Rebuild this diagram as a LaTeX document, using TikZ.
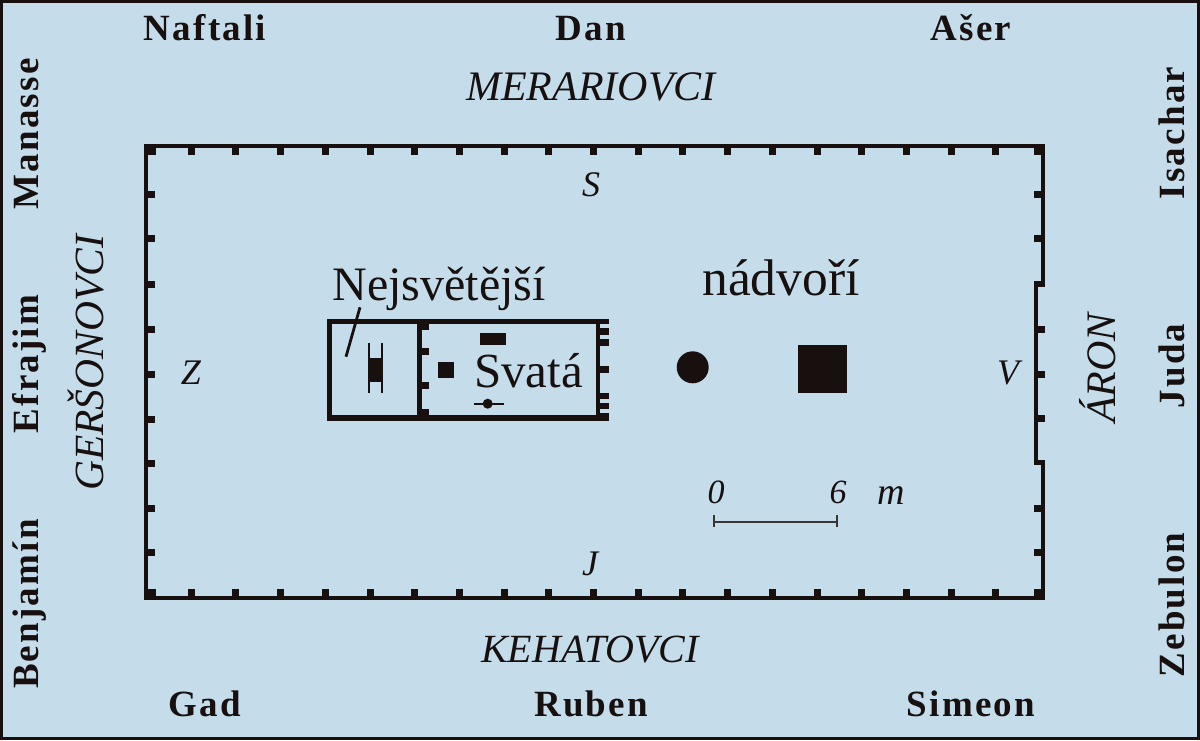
\documentclass[tikz,border=0pt]{standalone}
\usepackage{fontspec}
\setmainfont{Liberation Serif}
\definecolor{bgblue}{HTML}{C5DCEA}
\definecolor{ink}{HTML}{17100F}
\newcommand{\fsz}[1]{\fontsize{#1}{#1}\selectfont}
\newfontfamily\tribefont[LetterSpace=6]{Liberation Serif Bold}
\tikzset{
  x=1pt,y=-1pt,
  tribe/.style={inner sep=0pt,anchor=base,font=\tribefont\fsz{37}\selectfont,text=ink},
  levite/.style={inner sep=0pt,anchor=base,font=\itshape\fsz{#1},text=ink},
  compass/.style={inner sep=0pt,anchor=base,font=\itshape\fsz{36},text=ink},
  room/.style={inner sep=0pt,anchor=base,font=\fsz{48},text=ink},
  solid block/.style={fill=ink,draw=none},
  scale line/.style={draw=ink!85,line width=2pt},
}
\begin{document}
\begin{tikzpicture}
\useasboundingbox (0,0) rectangle (1200,740);
\fill[ink] (0,0) rectangle (1200,740);
\fill[bgblue] (3,3) rectangle (1197,737);
% court wall
\fill[solid block] (144,144) rectangle (1045,148);
\fill[solid block] (144,596) rectangle (1045,600);
\fill[solid block] (144,144) rectangle (148,600);
\fill[solid block] (1041,144) rectangle (1045,287);
\fill[solid block] (1034,281) rectangle (1045,287);
\fill[solid block] (1034,281) rectangle (1038,465);
\fill[solid block] (1034,460) rectangle (1045,465);
\fill[solid block] (1041,460) rectangle (1045,600);
% corner blocks
\fill[solid block] (144,144) rectangle (156,155);
\fill[solid block] (144,589) rectangle (156,600);
\fill[solid block] (1034,144) rectangle (1045,155);
\fill[solid block] (1034,589) rectangle (1045,600);
% posts along top and bottom
\foreach \k in {1,...,19}{
  \pgfmathsetmacro{\px}{146.5+44.7*\k}
  \fill[solid block] (\px-3.5,144) rectangle (\px+3.5,155);
  \fill[solid block] (\px-3.5,589) rectangle (\px+3.5,600);
}
% posts along sides
\foreach \py in {194,238,284,329,374,419,463,508,552}{
  \fill[solid block] (144,\py-3.5) rectangle (155,\py+3.5);
}
\foreach \py in {194,238,508,552,329,374,418}{
  \fill[solid block] (1034,\py-3.5) rectangle (1045,\py+3.5);
}
% tent
\fill[solid block] (327,318.5) rectangle (609,324);
\fill[solid block] (327,415) rectangle (609,420.5);
\fill[solid block] (327,318.5) rectangle (332,420.5);
\fill[solid block] (417,318.5) rectangle (422,420.5);
\fill[solid block] (596,318.5) rectangle (599.5,420.5);
\fill[solid block] (417,318.5) rectangle (429,330);
\fill[solid block] (417,409) rectangle (429,420.5);
\fill[solid block] (417,348) rectangle (429,355);
\fill[solid block] (417,382) rectangle (429,389);
\fill[solid block] (596,328) rectangle (609,335);
\fill[solid block] (596,339) rectangle (609,346);
\fill[solid block] (596,366) rectangle (609,373);
\fill[solid block] (596,393) rectangle (609,399);
\fill[solid block] (596,403) rectangle (609,409);
\fill[solid block] (596,413) rectangle (609,420.5);
% furnishings
\fill[solid block] (480,333.3) rectangle (505.7,345);
\fill[solid block] (437.7,361.7) rectangle (454,377.7);
\fill[solid block] (474.3,402.5) rectangle (504.3,405);
\fill[solid block] (487.7,403.7) circle (5);
\fill[solid block] (369.3,358.3) rectangle (381,381.7);
\fill[solid block] (367.5,343.3) rectangle (369.5,393.3);
\fill[solid block] (381,343.3) rectangle (383,393.3);
\coordinate (leaderA) at (360,307.3);
\coordinate (leaderB) at (346,356.7);
\draw[ink,line width=2.8pt] (leaderA) -- (leaderB);
% altar and laver
\fill[solid block] (692.7,367.3) circle (16);
\fill[solid block] (798.3,344.7) rectangle (846.7,392.7);
% scale
\coordinate (scaleL) at (714,521.7);
\coordinate (scaleR) at (837,521.7);
\draw[scale line] (scaleL) -- (scaleR);
\draw[scale line] (714,515) -- (714,527);
\draw[scale line] (837,515) -- (837,527);
\node[compass,font=\itshape\fsz{34}] (n0) at (716,503) {0};
\node[compass,font=\itshape\fsz{34}] (n6) at (838,503) {6};
\node[compass,font=\itshape\fsz{38}] (nm) at (891,504) {m};
% room labels
\node[room] (holiest) at (439,300) {Nejsvětější};
\node[room,font=\fsz{51.5}] (court) at (781,295) {nádvoří};
\node[room,font=\fsz{49}] (holy) at (528.5,387) {Svatá};
% compass
\node[compass] (s) at (591,196) {S};
\node[compass] (z) at (191,384) {Z};
\node[compass] (v) at (1008,384) {V};
\node[compass] (j) at (590,575) {J};
% levites
\node[levite=42] (merari) at (591,100) {MERARIOVCI};
\node[levite=40] (kehat) at (590,662) {KEHATOVCI};
\node[levite=41.5,rotate=90] (gerson) at (103,363) {GERŠONOVCI};
\node[levite=42,rotate=90] (aron) at (1115,368) {ÁRON};
% tribes
\node[tribe] (naftali) at (205,40) {Naftali};
\node[tribe] (dan) at (591,40) {Dan};
\node[tribe] (aser) at (971,40) {Ašer};
\node[tribe] (gad) at (205,716) {Gad};
\node[tribe] (ruben) at (591,716) {Ruben};
\node[tribe] (simeon) at (971,716) {Simeon};
\node[tribe,rotate=90] (manasse) at (38,134) {Manasse};
\node[tribe,rotate=90] (efrajim) at (38,364) {Efrajim};
\node[tribe,rotate=90] (benjamin) at (38,604) {Benjamín};
\node[tribe,rotate=90] (isachar) at (1184,133) {Isachar};
\node[tribe,rotate=90] (juda) at (1184,366) {Juda};
\node[tribe,rotate=90] (zebulon) at (1184,605) {Zebulon};
\end{tikzpicture}
\end{document}
